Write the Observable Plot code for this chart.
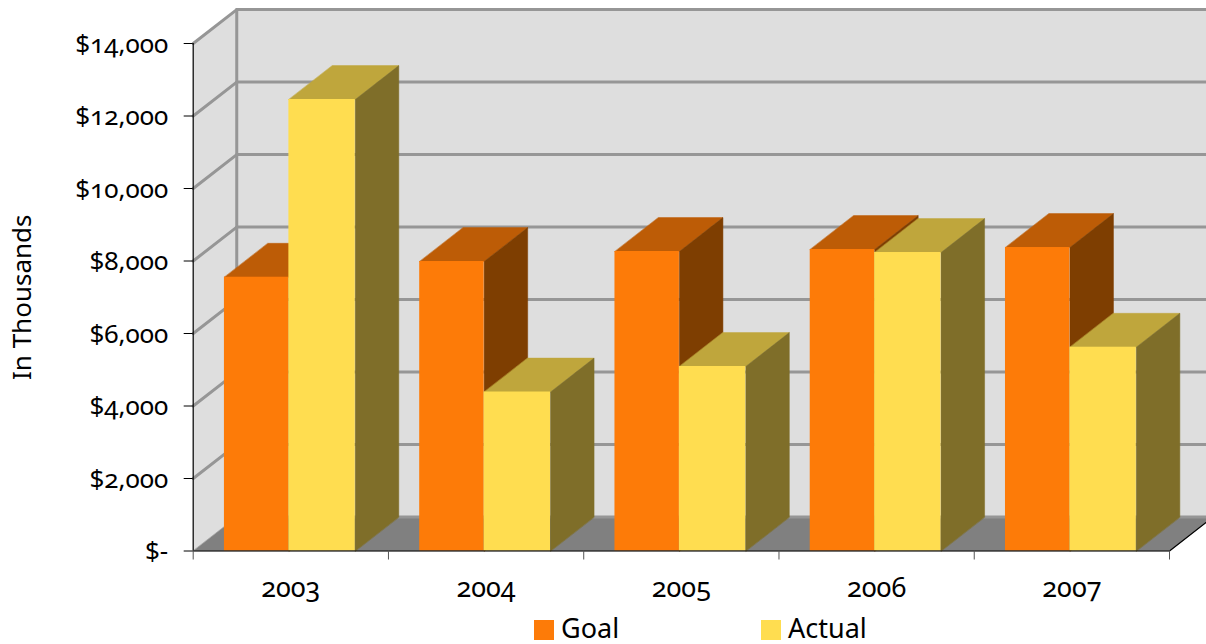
<!DOCTYPE html>
<html>
<head>
<meta charset="utf-8">
<script src="https://cdn.jsdelivr.net/npm/d3@7"></script>
<script src="https://cdn.jsdelivr.net/npm/@observablehq/plot@0.6"></script>
<style>
  html, body { margin: 0; padding: 0; background: #fff; overflow: hidden; }
  #chart svg { display: block; overflow: hidden; font-feature-settings: "onum" 1; font-variant-numeric: oldstyle-nums; }
  #legend { position: relative; height: 32px; font: 27px "Noto Sans", sans-serif; color: #000; }
  #legend span { position: absolute; }
  #legend .sw { width: 20px; height: 20px; top: 8px; }
  #legend .lb { top: 0; line-height: 32px; }
</style>
</head>
<body>
<div id="chart"></div>
<div id="legend">
  <span class="sw" style="left:534px;background:#fd7b08"></span><span class="lb" style="left:561px">Goal</span>
  <span class="sw" style="left:761px;background:#ffdd50"></span><span class="lb" style="left:788px">Actual</span>
</div>
<script>
const years = ["2003", "2004", "2005", "2006", "2007"];
const goal = [7553, 7986, 8262, 8317, 8372];
const actual = [12455, 4386, 5090, 8234, 5622];
const yTicks = [0, 2000, 4000, 6000, 8000, 10000, 12000, 14000];
const seriesBands = [[0.16, 0.49], [0.49, 0.83]];
const goalColors = { front: "#fd7b08", top: "#bd5c06", side: "#7e3e01" };
const actualColors = { front: "#ffdd50", top: "#bfa63c", side: "#7f6e29" };

// Oblique depth, in data units (categories along x, dollars along y)
const depthX = 0.223, depthY = 935;
const poly = (pts, fill) => Plot.line(pts.map(([x, y]) => ({ x, y })), {
  x: "x", y: "y", fill, stroke: fill, strokeWidth: 0.5, curve: "linear-closed"
});
const seg = (a, b, opts) => Plot.line([{ x: a[0], y: a[1] }, { x: b[0], y: b[1] }], { x: "x", y: "y", ...opts });

function bar(i, band, v, colors) {
  const x1 = i + band[0], x2 = i + band[1];
  return [
    poly([[x1, v], [x2, v], [x2 + depthX, v + depthY], [x1 + depthX, v + depthY]], colors.top),
    poly([[x2, 0], [x2, v], [x2 + depthX, v + depthY], [x2 + depthX, depthY]], colors.side),
    Plot.rect([{ x1, x2, y1: 0, y2: v }], { x1: "x1", x2: "x2", y1: "y1", y2: "y2", fill: colors.front })
  ];
}

const n = years.length, grey = "#969696";
const gridOpts = { stroke: grey, strokeWidth: 3 };
const marks = [
  // walls and floor
  poly([[0, 0], [depthX, depthY], [depthX, 14000 + depthY], [0, 14000]], "#dedede"),
  poly([[depthX, depthY], [n + depthX, depthY], [n + depthX, 14000 + depthY], [depthX, 14000 + depthY]], "#dedede"),
  poly([[0, 0], [n, 0], [n + depthX, depthY], [depthX, depthY]], "#808080"),
  // gridlines on the back wall and side wall
  ...yTicks.flatMap(v => [
    seg([depthX, v + depthY], [n + depthX, v + depthY], gridOpts),
    ...(v > 0 ? [seg([0, v], [depthX, v + depthY], gridOpts)] : [])
  ]),
  seg([depthX, depthY], [depthX, 14000 + depthY], gridOpts),
  // bars
  ...years.flatMap((_, i) => [
    ...bar(i, seriesBands[0], goal[i], goalColors),
    ...bar(i, seriesBands[1], actual[i], actualColors)
  ]),
  // axes
  Plot.ruleY([0], { stroke: "#000", strokeWidth: 1.2 }),
  Plot.ruleX([0], { stroke: "#000", strokeWidth: 1.2 }),
  seg([n, 0], [n + depthX, depthY], { stroke: "#000", strokeWidth: 1.2 }),
  Plot.axisY({ ticks: yTicks, tickSize: 9, stroke: "#000", tickFormat: () => "" }),
  Plot.axisY({
    ticks: yTicks, tickSize: 0, tickPadding: 25, dy: 1,
    tickFormat: d => d === 0 ? "$-" : "$" + d3.format(",")(d),
    fontSize: 26, label: "In Thousands", labelAnchor: "center", labelArrow: "none", labelOffset: 181
  }),
  Plot.axisX({ ticks: d3.range(n + 1), tickSize: 9, tickFormat: () => "", stroke: "#555" }),
  Plot.axisX({
    ticks: years.map((_, i) => i + 0.5), tickSize: 0, tickPadding: 27,
    tickFormat: d => years[d - 0.5], fontSize: 27, label: null
  })
];

const plot = Plot.plot({
  width: 1206, height: 612,
  marginLeft: 192.7, marginRight: 37, marginTop: 43, marginBottom: 61.5,
  style: { fontFamily: "'Noto Sans', sans-serif", fontSize: "26px", color: "#000", background: "#fff" },
  x: { domain: [0, n], label: null },
  y: { domain: [0, 14000], label: null },
  marks
});
document.getElementById("chart").append(plot);
</script>
</body>
</html>
